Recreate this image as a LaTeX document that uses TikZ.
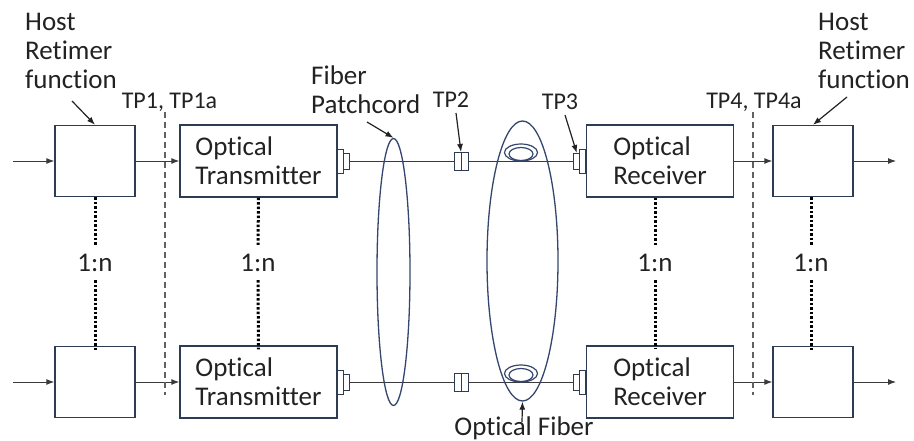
\documentclass[tikz,border=0pt]{standalone}
\usepackage{fontspec}
\setsansfont{Carlito}[Ligatures=NoCommon]
\usetikzlibrary{arrows.meta,positioning,shapes.geometric,calc}
\definecolor{cBox}{HTML}{2E3B55}
\definecolor{cFib}{HTML}{34456E}
\definecolor{cInk}{HTML}{222222}
\definecolor{cLine}{HTML}{3A3A3A}

\begin{document}
\begin{tikzpicture}[
    x=1pt, y=-1pt,
    font=\sffamily\fontsize{27}{29}\selectfont,
    >={Latex[length=8pt,width=6pt]},
    every node/.style={text=cInk},
    hostbox/.style={
        rectangle, draw=cBox, line width=1.4pt, fill=white,
        minimum width=80pt, minimum height=71pt, inner sep=0pt
    },
    txbox/.style={
        rectangle, draw=cBox, line width=1.4pt, fill=white,
        minimum width=157pt, minimum height=72pt,
        align=left, inner sep=0pt
    },
    rxbox/.style={txbox, minimum width=147pt},
    plugbig/.style={
        rectangle, draw=cBox, line width=1pt, fill=white,
        minimum width=6pt, minimum height=24pt, inner sep=0pt, outer sep=0pt
    },
    plugsmall/.style={plugbig, minimum height=16pt},
    tpbox/.style={plugbig, minimum width=14pt, minimum height=18pt},
    loop/.style={
        ellipse, draw=cFib, line width=1.3pt, inner sep=0pt
    },
    lbl/.style={align=left, inner sep=0pt},
    tplbl/.style={inner sep=0pt, font=\sffamily\fontsize{24}{26}\selectfont},
    ratio/.style={inner sep=0pt, minimum height=35pt},
    flow/.style={->, line width=0.9pt, draw=cLine},
    fiber/.style={line width=0.9pt, draw=cLine},
    pointer/.style={->, line width=1.2pt, draw=cInk},
    tpline/.style={line width=1.4pt, draw=cLine!80, dash pattern=on 6pt off 4pt},
    dots/.style={line width=3pt, draw=black, dash pattern=on 2.5pt off 2pt},
]
\useasboundingbox (0,0) rectangle (914,440);

% =====================================================
% Lane 1 (top)
% =====================================================

\node[hostbox] (hostL1) at (95,161)    {};
\node[txbox]   (tx1)    at (258.5,161) {Optical\\Transmitter};
\node[rxbox]   (rx1)    at (660,161)   {Optical\\Receiver};
\node[hostbox] (hostR1) at (813,161)   {};

% connectors on the optics
\node[plugbig,   right=0pt of tx1]  (txp1) {};
\node[plugsmall, right=0pt of txp1] (txq1) {};
\node[plugbig,   left=0pt of rx1]   (rxp1) {};
\node[plugsmall, left=0pt of rxp1]  (rxq1) {};
\node[tpbox] (tp2a) at (461,161) {};
\draw[line width=1pt, draw=cBox] (tp2a.north) -- (tp2a.south);

\coordinate (in1)  at (13,161);
\coordinate (out1) at (896,161);

\draw[flow]  (in1) -- (hostL1.west);
\draw[flow]  (hostL1.east) -- (tx1.west);
\draw[fiber] (txq1.east) -- (tp2a.west);
\draw[fiber] (tp2a.east) -- (rxq1.west);
\draw[flow]  (rx1.east) -- (hostR1.west);
\draw[flow]  (hostR1.east) -- (out1);

% fiber coil
\draw[draw=cFib, line width=1.2pt] (521,152.5) ellipse [x radius=16.5, y radius=8.5];
\draw[draw=cFib, line width=1.2pt] (521,154)   ellipse [x radius=12,   y radius=6.5];

% =====================================================
% Lane n (bottom)
% =====================================================

\node[hostbox] (hostL2) at (95,382)    {};
\node[txbox]   (tx2)    at (258.5,382) {Optical\\Transmitter};
\node[rxbox]   (rx2)    at (660,382)   {Optical\\Receiver};
\node[hostbox] (hostR2) at (813,382)   {};

\node[plugbig,   right=0pt of tx2]  (txp2) {};
\node[plugsmall, right=0pt of txp2] (txq2) {};
\node[plugbig,   left=0pt of rx2]   (rxp2) {};
\node[plugsmall, left=0pt of rxp2]  (rxq2) {};
\node[tpbox] (tp2b) at (461,382) {};
\draw[line width=1pt, draw=cBox] (tp2b.north) -- (tp2b.south);

\coordinate (in2)  at (13,382);
\coordinate (out2) at (896,382);

\draw[flow]  (in2) -- (hostL2.west);
\draw[flow]  (hostL2.east) -- (tx2.west);
\draw[fiber] (txq2.east) -- (tp2b.west);
\draw[fiber] (tp2b.east) -- (rxq2.west);
\draw[flow]  (rx2.east) -- (hostR2.west);
\draw[flow]  (hostR2.east) -- (out2);

\draw[draw=cFib, line width=1.2pt] (521,373.5) ellipse [x radius=16.5, y radius=8.5];
\draw[draw=cFib, line width=1.2pt] (521,375)   ellipse [x radius=12,   y radius=6.5];

% =====================================================
% 1:n fan-out
% =====================================================

\node[ratio] (nHL) at (95,262.5)  {1:n};
\node[ratio] (nTX) at (258,262.5) {1:n};
\node[ratio] (nRX) at (655,262.5) {1:n};
\node[ratio] (nHR) at (811,262.5) {1:n};

\draw[dots] (hostL1.south) -- (nHL.north);
\draw[dots] (nHL.south) -- ([yshift=-4pt]hostL2.north);
\draw[dots] (tx1.south) -- (nTX.north);
\draw[dots] (nTX.south) -- ([yshift=-4pt]tx2.north);
\draw[dots] (rx1.south -| nRX) -- (nRX.north);
\draw[dots] (nRX.south) -- ([yshift=-4pt]rx2.north -| nRX);
\draw[dots] (hostR1.south -| nHR) -- (nHR.north);
\draw[dots] (nHR.south) -- ([yshift=-4pt]hostR2.north -| nHR);

% =====================================================
% Fibers and test points
% =====================================================

\node[loop, minimum width=33pt, minimum height=267pt] (patch) at (393.5,272) {};
\node[loop, minimum width=71pt, minimum height=280pt] (fib)   at (522.5,261) {};

\coordinate (tp1top) at (165,112);
\coordinate (tp1bot) at (165,395);
\coordinate (tp4top) at (753,112);
\coordinate (tp4bot) at (753,395);
\draw[tpline] (tp1top) -- (tp1bot);
\draw[tpline] (tp4top) -- (tp4bot);

% =====================================================
% Labels
% =====================================================

\node[lbl, anchor=north west] (hostLlbl) at (25,13)  {Host\\Retimer\\function};
\node[lbl, anchor=north west] (hostRlbl) at (818,13) {Host\\Retimer\\function};
\node[lbl, anchor=north west] (patchlbl) at (311,66) {Fiber\\Patchcord};
\node[tplbl, anchor=base] (tp1lbl) at (169.5,108) {TP1, TP1a};
\node[tplbl, anchor=base] (tp2lbl) at (451,107)   {TP2};
\node[tplbl, anchor=base] (tp3lbl) at (560,109)   {TP3};
\node[tplbl, anchor=base] (tp4lbl) at (754,108)   {TP4, TP4a};
\node[anchor=base] (fiblbl) at (524,435) {Optical Fiber};

\coordinate (hostLtail) at (72,101);
\coordinate (hostRtail) at (847,97);
\coordinate (patchtail) at (367,122);
\coordinate (tp2tail)   at (456,113);
\coordinate (tp3tail)   at (565,115);
\coordinate (fibtail)   at (522,422);

\draw[pointer] (hostLtail) -- (hostL1.north);
\draw[pointer] (hostRtail) -- (hostR1.north);
\draw[pointer] (patchtail) -- (patch.north);
\draw[pointer] (tp2tail)   -- (tp2a.north);
\draw[pointer] (tp3tail)   -- (rxq1.north);
\draw[pointer] (fibtail)   -- (fib.south);

\end{tikzpicture}
\end{document}
